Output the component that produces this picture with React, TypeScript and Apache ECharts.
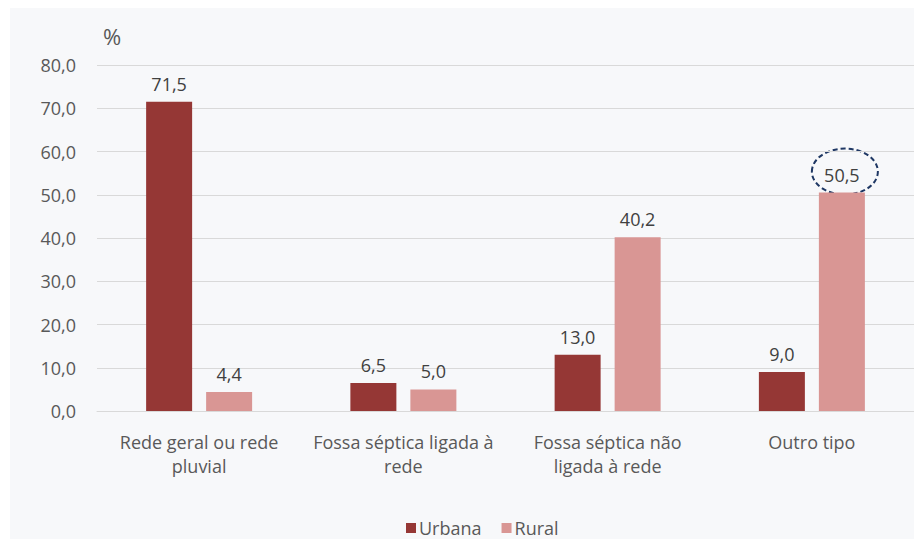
import React, { useEffect, useRef } from "react";
import * as echarts from "echarts";

const categories = [
  "Rede geral ou rede\npluvial",
  "Fossa séptica ligada à\nrede",
  "Fossa séptica não\nligada à rede",
  "Outro tipo",
];
const urbana = [71.5, 6.5, 13.0, 9.0];
const rural = [4.4, 5.0, 40.2, 50.5];
const seriesNames = ["Urbana", "Rural"];
const yTicks = { min: 0, max: 80, interval: 10 };
const highlighted = { seriesIndex: 1, dataIndex: 3 };

const FONT = "'Open Sans', 'Noto Sans', sans-serif";
const FS = 18;
const BAR_W = 46;
const BAR_GAP = 14;
const fmt = (v: number) => v.toFixed(1).replace(".", ",");

export default function App() {
  const ref = useRef<HTMLDivElement>(null);
  useEffect(() => {
    if (!ref.current) return;
    const chart = echarts.init(ref.current, null, { renderer: "svg" });
    const labelCfg = {
      show: true,
      position: "top" as const,
      distance: 9,
      color: "#404040",
      fontSize: FS,
      fontFamily: FONT,
      formatter: (p: any) => fmt(p.value),
    };
    const baseGraphic: any[] = [
      {
        type: "rect",
        z: -100,
        silent: true,
        shape: { x: 10, y: 8, width: 904, height: 531 },
        style: { fill: "#f7f8fa" },
      },
      {
        type: "text",
        x: 103,
        y: 36,
        style: {
          text: "%",
          fill: "#595959",
          fontSize: 22,
          fontFamily: FONT,
          verticalAlign: "middle",
        },
      },
    ];
    chart.setOption({
      animation: false,
      backgroundColor: "#ffffff",
      textStyle: { fontFamily: FONT },
      grid: { left: 97, right: 0, top: 65, bottom: 128 },
      legend: {
        data: seriesNames,
        left: 406,
        top: 518,
        padding: 0,
        icon: "rect",
        itemWidth: 10,
        itemHeight: 10,
        itemGap: 20,
        textStyle: {
          color: "#595959",
          fontSize: FS,
          lineHeight: 20,
          fontFamily: FONT,
          padding: [0, 0, 0, -2],
        },
      },
      xAxis: {
        type: "category",
        data: categories,
        axisLine: { show: true, lineStyle: { color: "#d9d9d9", width: 1 } },
        axisTick: { show: false },
        axisLabel: {
          color: "#595959",
          fontSize: FS,
          fontFamily: FONT,
          margin: 19,
          lineHeight: 24,
          interval: 0,
        },
      },
      yAxis: {
        type: "value",
        min: yTicks.min,
        max: yTicks.max,
        interval: yTicks.interval,
        axisLine: { show: false },
        axisTick: { show: false },
        splitLine: { lineStyle: { color: "#d9d9d9", width: 1 } },
        axisLabel: {
          color: "#595959",
          fontSize: FS,
          fontFamily: FONT,
          margin: 21,
          formatter: (v: number) => fmt(v),
        },
      },
      series: [
        {
          name: seriesNames[0],
          type: "bar",
          data: urbana,
          barWidth: BAR_W,
          barGap: (BAR_GAP / BAR_W) * 100 + "%",
          itemStyle: { color: "#953735" },
          label: labelCfg,
        },
        {
          name: seriesNames[1],
          type: "bar",
          data: rural,
          barWidth: BAR_W,
          barGap: (BAR_GAP / BAR_W) * 100 + "%",
          itemStyle: { color: "#d99694" },
          label: labelCfg,
        },
      ],
      graphic: baseGraphic,
    });
    const pt = chart.convertToPixel({ seriesIndex: highlighted.seriesIndex }, [
      highlighted.dataIndex,
      rural[highlighted.dataIndex],
    ]) as number[];
    if (pt) {
      const offset = (BAR_W + BAR_GAP) / 2;
      chart.setOption({
        graphic: [
          ...baseGraphic,
          {
            type: "ellipse",
            silent: true,
            shape: { cx: pt[0] + offset + 3, cy: pt[1] - 21, rx: 33, ry: 23 },
            style: { fill: "none", stroke: "#1f3864", lineWidth: 2, lineDash: [5, 3] },
          },
        ],
      });
    }
    return () => chart.dispose();
  }, []);
  return (
    <div
      ref={ref}
      style={{ position: "fixed", left: 0, top: 0, width: 914, height: 539 }}
    />
  );
}
